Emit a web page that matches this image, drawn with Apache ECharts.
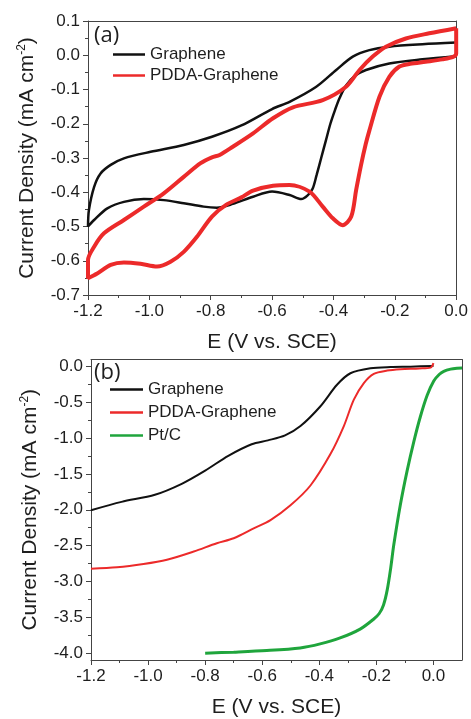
<!DOCTYPE html>
<html>
<head>
<meta charset="utf-8">
<script src="https://cdn.jsdelivr.net/npm/echarts@6/dist/echarts.min.js"></script>
<style>
  html, body { margin: 0; padding: 0; background: #fff; }
  #chart { width: 471px; height: 719px; }
</style>
</head>
<body>
<div id="chart"></div>
<script>
// (a) CV curves (E in V vs. SCE, J in mA cm^-2)
// forward sweep 0 -> -1.2, then back to 0
const cvGrapheneE = [0, -0.11, -0.218, -0.283, -0.337, -0.391, -0.456, -0.543, -0.6, -0.7, -0.796, -0.888, -0.996, -1.083, -1.126, -1.159, -1.18, -1.197, -1.2,
  -1.18, -1.137, -1.083, -1.018, -0.953, -0.888, -0.823, -0.78, -0.728, -0.662, -0.6, -0.543, -0.505, -0.485, -0.468, -0.455, -0.44, -0.425, -0.41, -0.395, -0.38, -0.36, -0.33, -0.294, -0.218, -0.11, 0]
const cvGrapheneJ = [0.037, 0.032, 0.025, 0.015, -0.004, -0.043, -0.092, -0.136, -0.157, -0.205, -0.238, -0.262, -0.282, -0.301, -0.32, -0.345, -0.384, -0.452, -0.5,
  -0.481, -0.447, -0.428, -0.42, -0.423, -0.432, -0.442, -0.445, -0.434, -0.413, -0.398, -0.408, -0.42, -0.41, -0.39, -0.35, -0.3, -0.25, -0.2, -0.16, -0.125, -0.09, -0.06, -0.043, -0.024, -0.012, -0.003]

const cvPddaE = [0, -0.088, -0.164, -0.229, -0.272, -0.315, -0.359, -0.435, -0.532, -0.597, -0.662, -0.728, -0.771, -0.796, -0.833, -0.888, -0.953, -1.018, -1.083, -1.148, -1.18, -1.2,
  -1.2, -1.17, -1.126, -1.083, -1.029, -0.975, -0.931, -0.888, -0.845, -0.796, -0.75, -0.7, -0.662, -0.597, -0.543, -0.478, -0.435, -0.402, -0.37, -0.342, -0.326, -0.31, -0.295, -0.283, -0.25, -0.218, -0.185, -0.15, -0.1, -0.045, -0.01, 0, 0]
const cvPddaJ = [0.079, 0.064, 0.049, 0.025, -0.004, -0.043, -0.092, -0.131, -0.152, -0.184, -0.228, -0.267, -0.291, -0.298, -0.315, -0.355, -0.403, -0.442, -0.481, -0.52, -0.559, -0.598,
  -0.651, -0.637, -0.612, -0.605, -0.609, -0.617, -0.603, -0.574, -0.53, -0.471, -0.437, -0.415, -0.395, -0.381, -0.379, -0.398, -0.442, -0.476, -0.496, -0.471, -0.393, -0.32, -0.26, -0.22, -0.121, -0.063, -0.033, -0.025, -0.019, -0.012, -0.005, 0.005, 0.079]

// (b) LSV curves
const lsvGrapheneE = [-1.2, -1.093, -0.976, -0.882, -0.8, -0.719, -0.637, -0.58, -0.52, -0.466, -0.396, -0.338, -0.291, -0.221, -0.15, -0.08, 0]
const lsvGrapheneJ = [-2.007, -1.89, -1.79, -1.637, -1.453, -1.246, -1.084, -1.03, -0.96, -0.83, -0.553, -0.253, -0.092, -0.023, -0.005, 0.0, 0.01]

const lsvPddaE = [-1.2, -1.109, -1.016, -0.934, -0.84, -0.759, -0.7, -0.63, -0.571, -0.501, -0.431, -0.361, -0.314, -0.279, -0.244, -0.209, -0.162, -0.116, -0.05, -0.01, 0]
const lsvPddaJ = [-2.824, -2.805, -2.759, -2.699, -2.584, -2.468, -2.399, -2.261, -2.145, -1.938, -1.661, -1.222, -0.83, -0.461, -0.23, -0.101, -0.055, -0.036, -0.025, -0.013, 0.05]

const lsvPtE = [-0.8, -0.7, -0.584, -0.467, -0.397, -0.327, -0.257, -0.21, -0.19, -0.175, -0.162, -0.15, -0.139, -0.116, -0.092, -0.069, -0.046, -0.022, 0.001, 0.02, 0.036, 0.06, 0.083, 0.1]
const lsvPtJ = [-4.005, -3.99, -3.968, -3.931, -3.875, -3.792, -3.668, -3.53, -3.45, -3.33, -3.12, -2.82, -2.49, -1.93, -1.45, -1.05, -0.7, -0.4, -0.2, -0.11, -0.065, -0.035, -0.023, -0.02]

// tick positions / labels
const cvXTicks = [-1.2, -1.0, -0.8, -0.6, -0.4, -0.2, 0.0]
const cvXMinor = [-1.1, -0.9, -0.7, -0.5, -0.3, -0.1]
const cvYTicks = [-0.7, -0.6, -0.5, -0.4, -0.3, -0.2, -0.1, 0.0, 0.1]
const cvYMinor = [-0.65, -0.55, -0.45, -0.35, -0.25, -0.15, -0.05, 0.05]
const lsvXTicks = [-1.2, -1.0, -0.8, -0.6, -0.4, -0.2, 0.0]
const lsvXMinor = [-1.1, -0.9, -0.7, -0.5, -0.3, -0.1]
const lsvYTicks = [-4.0, -3.5, -3.0, -2.5, -2.0, -1.5, -1.0, -0.5, 0.0]
const lsvYMinor = [-3.75, -3.25, -2.75, -2.25, -1.75, -1.25, -0.75, -0.25]

const FONT = 'Liberation Sans'
const INK = '#1e1e1e'
const FRAME = '#444444'
const BLACK = '#111111'
const RED = '#ec2a2a'
const GREEN = '#1fa53c'

const zip = (xs, ys) => xs.map((x, i) => [x, ys[i]])

const chart = echarts.init(document.getElementById('chart'))

// axis with labels and long ticks
function majorAxis(grid, pos, min, max, ticks, extra) {
  return Object.assign({
    type: 'value',
    gridIndex: grid,
    position: pos,
    min: min,
    max: max,
    axisLine: { show: true, onZero: false, lineStyle: { color: FRAME, width: 1 } },
    axisTick: { show: true, customValues: ticks, length: 5, lineStyle: { color: FRAME, width: 1 } },
    axisLabel: {
      customValues: ticks,
      formatter: v => v.toFixed(1),
      fontSize: 17,
      fontFamily: FONT,
      color: INK,
      margin: 8
    },
    splitLine: { show: false }
  }, extra)
}

// overlay axis carrying only the short ticks
function minorAxis(grid, pos, min, max, ticks) {
  return {
    type: 'value',
    gridIndex: grid,
    position: pos,
    min: min,
    max: max,
    axisLine: { show: false, onZero: false },
    axisTick: { show: true, customValues: ticks, length: 3, lineStyle: { color: FRAME, width: 1 } },
    axisLabel: { show: false },
    splitLine: { show: false }
  }
}

// top / right edges of the box
function frameAxis(grid, pos, min, max) {
  return {
    type: 'value',
    gridIndex: grid,
    position: pos,
    min: min,
    max: max,
    axisLine: { show: true, onZero: false, lineStyle: { color: FRAME, width: 1 } },
    axisTick: { show: false },
    axisLabel: { show: false },
    splitLine: { show: false }
  }
}

const yName = {
  name: 'Current Density (mA cm{sup|-2})',
  nameLocation: 'middle',
  nameGap: 50,
  nameTextStyle: {
    fontSize: 21,
    fontFamily: FONT,
    color: INK,
    rich: { sup: { fontSize: 12, fontFamily: FONT, color: INK, verticalAlign: 'top', lineHeight: 22 } }
  }
}
const xName = {
  name: 'E (V vs. SCE)',
  nameLocation: 'middle',
  nameGap: 37,
  nameTextStyle: { fontSize: 21, fontFamily: FONT, color: INK }
}

const legendBase = {
  orient: 'vertical', padding: 0, icon: 'rect',
  itemHeight: 2.5,
  textStyle: { fontSize: 17, fontFamily: FONT, color: INK }
}

const option = {
  animation: false,
  title: [
    { text: '(a)', left: 94, top: 25, padding: 0, textStyle: { fontSize: 22, fontWeight: 'normal', fontFamily: 'Open Sans', color: INK } },
    { text: '(b)', left: 94, top: 362, padding: 0, textStyle: { fontSize: 22, fontWeight: 'normal', fontFamily: 'Open Sans', color: INK } }
  ],
  legend: [
    Object.assign({}, legendBase, {
      data: ['Graphene', 'PDDA-Graphene'],
      left: 113, top: 46, itemWidth: 32, itemGap: 4
    }),
    Object.assign({}, legendBase, {
      data: ['Graphene', 'PDDA-Graphene', 'Pt/C'],
      left: 110, top: 381, itemWidth: 33, itemGap: 6
    })
  ],
  grid: [
    { left: 88, top: 21, width: 369, height: 274 },
    { left: 91, top: 359.5, width: 371, height: 303.5 }
  ],
  xAxis: [
    majorAxis(0, 'bottom', -1.2, 0, cvXTicks, xName),
    minorAxis(0, 'bottom', -1.2, 0, cvXMinor),
    majorAxis(1, 'bottom', -1.2, 0.1, lsvXTicks, xName),
    minorAxis(1, 'bottom', -1.2, 0.1, lsvXMinor),
    frameAxis(0, 'top', -1.2, 0),
    frameAxis(1, 'top', -1.2, 0.1)
  ],
  yAxis: [
    majorAxis(0, 'left', -0.7, 0.1, cvYTicks, yName),
    minorAxis(0, 'left', -0.7, 0.1, cvYMinor),
    majorAxis(1, 'left', -4.1, 0.1, lsvYTicks, yName),
    minorAxis(1, 'left', -4.1, 0.1, lsvYMinor),
    frameAxis(0, 'right', -0.7, 0.1),
    frameAxis(1, 'right', -4.1, 0.1)
  ],
  series: [
    {
      name: 'Graphene', type: 'line', xAxisIndex: 0, yAxisIndex: 0,
      data: zip(cvGrapheneE, cvGrapheneJ), symbol: 'none', smooth: 0.3,
      lineStyle: { color: BLACK, width: 2.5 }, itemStyle: { color: BLACK }
    },
    {
      name: 'PDDA-Graphene', type: 'line', xAxisIndex: 0, yAxisIndex: 0,
      data: zip(cvPddaE, cvPddaJ), symbol: 'none', smooth: 0.3,
      lineStyle: { color: RED, width: 4 }, itemStyle: { color: RED }
    },
    {
      name: 'Graphene', type: 'line', xAxisIndex: 2, yAxisIndex: 2,
      data: zip(lsvGrapheneE, lsvGrapheneJ), symbol: 'none', smooth: 0.3,
      lineStyle: { color: BLACK, width: 2 }, itemStyle: { color: BLACK }
    },
    {
      name: 'PDDA-Graphene', type: 'line', xAxisIndex: 2, yAxisIndex: 2,
      data: zip(lsvPddaE, lsvPddaJ), symbol: 'none', smooth: 0.3,
      lineStyle: { color: RED, width: 2 }, itemStyle: { color: RED }
    },
    {
      name: 'Pt/C', type: 'line', xAxisIndex: 2, yAxisIndex: 2,
      data: zip(lsvPtE, lsvPtJ), symbol: 'none', smooth: 0.3,
      lineStyle: { color: GREEN, width: 3 }, itemStyle: { color: GREEN }
    }
  ]
}

chart.setOption(option)
</script>
</body>
</html>
